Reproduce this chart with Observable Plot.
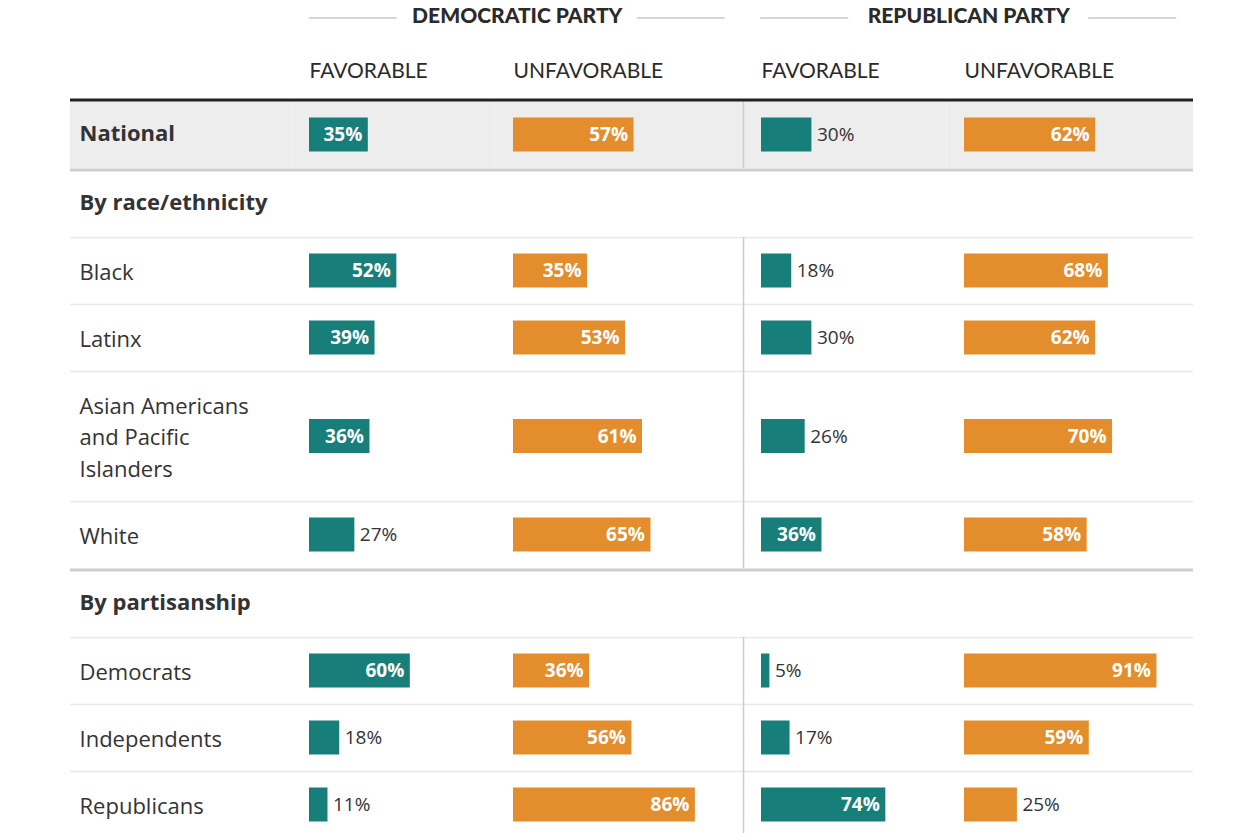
<!DOCTYPE html>
<html>
<head>
<meta charset="utf-8">
<script src="https://cdn.jsdelivr.net/npm/d3@7"></script>
<script src="https://cdn.jsdelivr.net/npm/@observablehq/plot@0.6"></script>
<style>
  html, body { margin: 0; padding: 0; background: #fff; }
  #chart { width: 1250px; height: 833px; overflow: hidden; }
  g[aria-label="party titles"] text { letter-spacing: 1.8px; }
  g[aria-label="measure titles"] text { letter-spacing: 1.5px; }
</style>
</head>
<body>
<div id="chart"></div>
<script>
// ---------- DATA ----------
const partyNames = ["DEMOCRATIC PARTY", "REPUBLICAN PARTY"];
const measureNames = ["FAVORABLE", "UNFAVORABLE"];
const rowLabels = ["National", "Black", "Latinx", "Asian Americans\nand Pacific\nIslanders", "White", "Democrats", "Independents", "Republicans"];
const rowGroups = ["National", "By race/ethnicity", "By race/ethnicity", "By race/ethnicity", "By race/ethnicity", "By partisanship", "By partisanship", "By partisanship"];
const demFavorable   = [35, 52, 39, 36, 27, 60, 18, 11];
const demUnfavorable = [57, 35, 53, 61, 65, 36, 56, 86];
const repFavorable   = [30, 18, 30, 26, 36, 5, 17, 74];
const repUnfavorable = [62, 68, 62, 70, 58, 91, 59, 25];

// ---------- LAYOUT ----------
const W = 1250, H = 833;
const tableLeft = 70, tableRight = 1193, labelX = 79;
const headerRuleY = 99.5, tableTop = 101;
const baseRowH = 67, extraLineH = 31.5, sepH = 3, sectionH = 66, barH = 34;
const labelShift = -1.5;
const colStart = [309, 513, 761, 964];
const colFull = [168, 211.5, 168, 211.5];   // pixel length of a 100% bar in each column
const partyDivider = 743;
const teal = "#177e7a", orange = "#e38d2c", ink = "#333333";
const bodyFont = "'Open Sans', sans-serif", headFont = "Lato, sans-serif";
const series = [demFavorable, demUnfavorable, repFavorable, repUnfavorable];

let y = tableTop;
const rows = [], seps = [], sections = [], thinLines = [], segments = [];
let segStart = y;
rowLabels.forEach((label, i) => {
  const g = rowGroups[i];
  if (i > 0 && g !== rowGroups[i - 1]) {
    segments.push({y1: segStart, y2: y});
    seps.push(y + sepH / 2); y += sepH;
    sections.push({label: g, y: y + sectionH / 2}); y += sectionH;
    segStart = y;
  }
  if (i > 0) thinLines.push(y);
  const lines = label.split("\n").length;
  const h = baseRowH + extraLineH * (lines - 1);
  rows.push({label, group: g, y0: y, y1: y + h, cy: y + h / 2, bold: g === "National"});
  y += h;
});
segments.push({y1: segStart, y2: Math.max(y, H)});

const bars = [];
rows.forEach((r, i) => {
  series.forEach((s, c) => {
    const v = s[i];
    const x2 = colStart[c] + v / 100 * colFull[c];
    bars.push({
      x1: colStart[c], x2, y1: r.cy - barH / 2, y2: r.cy + barH / 2,
      cy: r.cy, fill: c % 2 === 0 ? teal : orange,
      text: v + "%", inside: v >= 32
    });
  });
});

const groupCenters = [0, 1].map(p => (colStart[2 * p] + colStart[2 * p + 1] + colFull[2 * p + 1]) / 2);
const titleGap = 120, titleRuleLen = 88;
const titleRules = [];
groupCenters.forEach(cx => {
  titleRules.push({x1: cx - titleGap - titleRuleLen, x2: cx - titleGap});
  titleRules.push({x1: cx + titleGap, x2: cx + titleGap + titleRuleLen});
});
const partyTitles = partyNames.map((t, p) => ({t, x: groupCenters[p]}));
const measureTitles = colStart.map((x, c) => ({t: measureNames[c % 2], x}));
const national = rows.filter(r => r.bold);
const plainRows = rows.filter(r => !r.bold);

const chart = Plot.plot({
  width: W, height: H, margin: 0,
  x: {domain: [0, W], range: [0, W], axis: null},
  y: {domain: [0, H], range: [0, H], axis: null},
  style: {fontFamily: bodyFont, background: "#fff", color: ink, overflow: "hidden"},
  marks: [
    // national background
    Plot.rect(national, {x1: tableLeft, x2: tableRight, y1: "y0", y2: "y1", fill: "#ededed"}),
    Plot.ruleX(national.flatMap(r => [292, 494, 946].map(x => ({x, y1: r.y0, y2: r.y1}))), {x: "x", y1: "y1", y2: "y2", stroke: "#f2f2f2", strokeWidth: 1}),
    // row lines
    Plot.ruleY(thinLines, {y: d => d, x1: tableLeft, x2: tableRight, stroke: "#e8e8e8", strokeWidth: 1.5}),
    Plot.ruleY(seps, {y: d => d, x1: tableLeft, x2: tableRight, stroke: "#cfcfcf", strokeWidth: 3}),
    Plot.ruleX(segments, {x: partyDivider, y1: "y1", y2: "y2", stroke: "#cccccc", strokeWidth: 1.5}),
    Plot.ruleY([headerRuleY], {y: d => d, x1: tableLeft, x2: tableRight, stroke: "#222", strokeWidth: 3}),
    // header
    Plot.ruleY(titleRules, {y: 17.5, x1: "x1", x2: "x2", stroke: "#c8c8c8", strokeWidth: 1.5}),
    Plot.text(partyTitles, {x: "x", y: 16, text: "t", fontFamily: headFont, fontWeight: 900, fontSize: 21, fill: "#2a2a2a", ariaLabel: "party titles"}),
    Plot.text(measureTitles, {x: "x", y: 71, text: "t", textAnchor: "start", fontFamily: headFont, fontWeight: 400, fontSize: 21, fill: "#2a2a2a", ariaLabel: "measure titles"}),
    // row labels
    Plot.text(plainRows, {x: labelX, y: d => d.cy + labelShift, text: "label", textAnchor: "start", fontSize: 22, lineHeight: 1.43, fontWeight: 400, fill: ink}),
    Plot.text(national, {x: labelX, y: d => d.cy + labelShift, text: "label", textAnchor: "start", fontSize: 22, fontWeight: 700, fill: ink}),
    Plot.text(sections, {x: labelX, y: d => d.y + labelShift, text: "label", textAnchor: "start", fontSize: 22, fontWeight: 700, fill: ink}),
    // bars
    Plot.rect(bars, {x1: "x1", x2: "x2", y1: "y1", y2: "y2", fill: "fill"}),
    Plot.text(bars.filter(d => d.inside), {x: d => d.x2 - 6, y: "cy", text: "text", textAnchor: "end", fontSize: 19, fontWeight: 700, fill: "#fff"}),
    Plot.text(bars.filter(d => !d.inside), {x: d => d.x2 + 5, y: "cy", text: "text", textAnchor: "start", fontSize: 19, fontWeight: 400, fill: ink})
  ]
});
document.getElementById("chart").appendChild(chart);
</script>
</body>
</html>
